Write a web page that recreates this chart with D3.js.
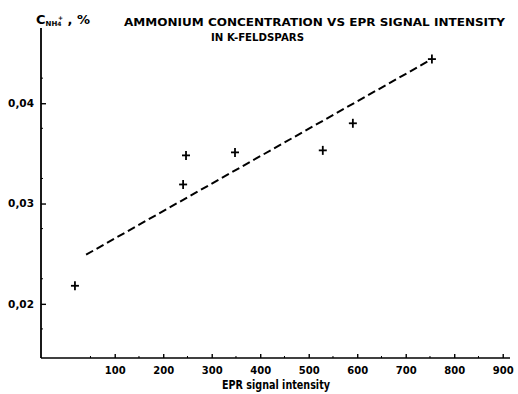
<!DOCTYPE html>
<html>
<head>
<meta charset="utf-8">
<script src="https://cdn.jsdelivr.net/npm/d3@7"></script>
<style>
  body { margin: 0; background: #fff; }
  svg text { font-family: "DejaVu Sans", sans-serif; font-weight: bold; fill: #000; }
</style>
</head>
<body>
<div id="chart"></div>
<script>
// values
const signal = [18, 241, 247, 348, 529, 591, 754];
const conc = [0.0218, 0.0319, 0.0348, 0.0351, 0.0353, 0.0380, 0.0444];
const fitX = [41, 754];
const fitY = [0.0249, 0.0444];
const xTicks = [100, 200, 300, 400, 500, 600, 700, 800, 900];
const yTicks = [0.02, 0.03, 0.04];
const yTickLabels = ["0,02", "0,03", "0,04"];

const width = 518, height = 394;

const svg = d3.select("#chart").append("svg")
  .attr("width", width)
  .attr("height", height);

const x = d3.scaleLinear().domain([-52, 915]).range([41, 510]);
const y = d3.scaleLinear().domain([0.0146, 0.0475]).range([358, 28]);

// axes
const xAxis = svg.append("g")
  .attr("transform", `translate(0, ${y(0.0146)})`)
  .call(d3.axisBottom(x).tickValues(xTicks).tickSize(-4).tickFormat(d3.format("d")).tickPadding(6));
xAxis.select(".domain").attr("d", `M${x(-52)},0H${x(915)}`).attr("stroke-width", 1.6);
xAxis.selectAll(".tick line").attr("stroke-width", 1.4);
xAxis.selectAll(".tick text").attr("font-size", 10).attr("dy", "0.95em");

const yAxis = svg.append("g")
  .attr("transform", `translate(${x(-52)}, 0)`)
  .call(d3.axisLeft(y).tickValues(yTicks).tickSize(-5).tickPadding(7)
    .tickFormat((d, i) => yTickLabels[i]));
yAxis.select(".domain").attr("d", `M0,${y(0.0475)}V${y(0.0146)}`).attr("stroke-width", 1.8);
yAxis.selectAll(".tick line").attr("stroke-width", 1.4);
yAxis.selectAll(".tick text").attr("font-size", 10.5);

// minor ticks
svg.append("g").selectAll("line")
  .data(d3.range(50, 950, 100))
  .join("line")
  .attr("x1", d => x(d)).attr("x2", d => x(d))
  .attr("y1", y(0.0146)).attr("y2", y(0.0146) - 2)
  .attr("stroke", "#000").attr("stroke-width", 1);
svg.append("g").selectAll("line")
  .data(d3.range(0.0175, 0.047, 0.005))
  .join("line")
  .attr("x1", x(-52)).attr("x2", x(-52) + 2)
  .attr("y1", d => y(d)).attr("y2", d => y(d))
  .attr("stroke", "#000").attr("stroke-width", 1);

// fitted dashed line
svg.append("line")
  .attr("x1", x(fitX[0])).attr("y1", y(fitY[0]))
  .attr("x2", x(fitX[1])).attr("y2", y(fitY[1]))
  .attr("stroke", "#000")
  .attr("stroke-width", 2)
  .attr("stroke-dasharray", "8,4");

// + markers
const pts = signal.map((s, i) => ({ s: s, c: conc[i] }));
const m = svg.append("g").selectAll("g")
  .data(pts)
  .join("g")
  .attr("transform", d => `translate(${x(d.s)}, ${y(d.c)})`);
m.append("line").attr("x1", -4).attr("x2", 4).attr("stroke", "#000").attr("stroke-width", 1.8);
m.append("line").attr("y1", -4.5).attr("y2", 4.5).attr("stroke", "#000").attr("stroke-width", 1.8);

// titles
svg.append("text")
  .attr("x", 124).attr("y", 26)
  .attr("font-size", 11)
  .attr("textLength", 381)
  .attr("lengthAdjust", "spacingAndGlyphs")
  .text("AMMONIUM CONCENTRATION VS EPR SIGNAL INTENSITY");
svg.append("text")
  .attr("x", 211).attr("y", 41)
  .attr("font-size", 11)
  .attr("textLength", 93)
  .attr("lengthAdjust", "spacingAndGlyphs")
  .text("IN K-FELDSPARS");

// y label: C_NH4+, %
const yl = svg.append("text").attr("x", 36).attr("y", 24).attr("font-size", 13);
yl.append("tspan").text("C");
yl.append("tspan").attr("font-size", 7).attr("dy", 2).text("NH");
yl.append("tspan").attr("font-size", 6).attr("dy", 0).text("4");
yl.append("tspan").attr("font-size", 6).attr("dx", -3.5).attr("dy", -6).text("+");
yl.append("tspan").attr("font-size", 13).attr("dy", 4).text(" , %");

// x label
svg.append("text")
  .attr("x", 276).attr("y", 389)
  .attr("text-anchor", "middle")
  .attr("font-size", 13)
  .attr("textLength", 108)
  .attr("lengthAdjust", "spacingAndGlyphs")
  .text("EPR signal intensity");
</script>
</body>
</html>
